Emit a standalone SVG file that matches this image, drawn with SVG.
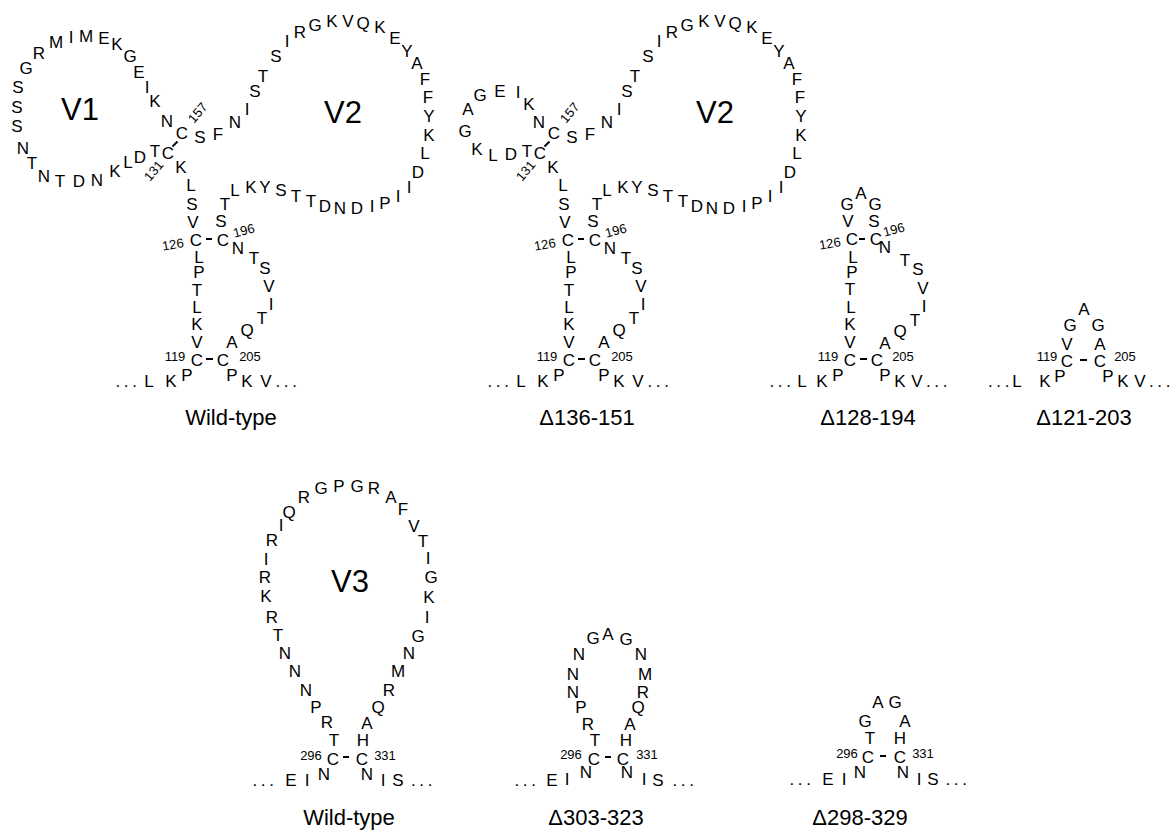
<svg xmlns="http://www.w3.org/2000/svg" width="1173" height="833" viewBox="0 0 1173 833">
<style>
text{font-family:"Liberation Sans",Arial,Helvetica,sans-serif;fill:#000}
.r{font-size:17px;text-anchor:middle}
.n{font-size:13px;text-anchor:middle}
.d{font-size:17px;letter-spacing:3.6px}
.lab{font-size:22px;text-anchor:middle}
.v{font-size:31px;text-anchor:middle}
line{stroke:#000;stroke-width:2}
</style>
<rect width="1173" height="833" fill="#fff"/>
<defs>
<g id="sharedV2">
<text class="r" x="155" y="157">T</text>
<text class="r" x="168" y="159">C</text>
<text class="r" x="182" y="139">C</text>
<text class="n" x="154" y="175" transform="rotate(-50 154 171)">131</text>
<text class="n" x="198" y="117" transform="rotate(-50 198 113)">157</text>
<line x1="172.5" y1="146.5" x2="177.5" y2="141.5"/>
<text class="r" x="181" y="173">K</text>
<text class="r" x="191" y="191">L</text>
<text class="r" x="192" y="210">S</text>
<text class="r" x="193" y="228">V</text>
<text class="r" x="196" y="246">C</text>
<text class="n" x="173" y="249" transform="rotate(-10 173 245)">126</text>
<line x1="206" y1="239" x2="212" y2="239"/>
<text class="r" x="223" y="246">C</text>
<text class="n" x="244" y="235" transform="rotate(-15 244 231)">196</text>
<text class="r" x="199" y="263">L</text>
<text class="r" x="199" y="278">P</text>
<text class="r" x="197" y="296">T</text>
<text class="r" x="197" y="313">L</text>
<text class="r" x="197" y="330">K</text>
<text class="r" x="197" y="348">V</text>
<text class="r" x="197" y="366">C</text>
<text class="n" x="175" y="361">119</text>
<line x1="206" y1="359" x2="213" y2="359"/>
<text class="r" x="223" y="366">C</text>
<text class="n" x="250" y="361">205</text>
<text class="r" x="187" y="381">P</text>
<text class="r" x="171" y="387">K</text>
<text class="r" x="149" y="387">L</text>
<text class="d" x="115.5" y="387">...</text>
<text class="r" x="232" y="381">P</text>
<text class="r" x="247" y="387">K</text>
<text class="r" x="266" y="387">V</text>
<text class="d" x="275.5" y="387">...</text>
<text class="r" x="238" y="254">N</text>
<text class="r" x="254" y="264">T</text>
<text class="r" x="265" y="274">S</text>
<text class="r" x="269" y="292">V</text>
<text class="r" x="271" y="310">I</text>
<text class="r" x="262" y="324">T</text>
<text class="r" x="247" y="336">Q</text>
<text class="r" x="232" y="348">A</text>
<text class="r" x="221" y="227">S</text>
<text class="r" x="225" y="210">T</text>
<text class="r" x="235" y="196">L</text>
<text class="r" x="251" y="193">K</text>
<text class="r" x="265" y="193">Y</text>
<text class="r" x="281" y="196">S</text>
<text class="r" x="296" y="202">T</text>
<text class="r" x="311" y="207">T</text>
<text class="r" x="325" y="212">D</text>
<text class="r" x="340" y="214">N</text>
<text class="r" x="357" y="214">D</text>
<text class="r" x="372" y="212">I</text>
<text class="r" x="385" y="209">P</text>
<text class="r" x="398" y="202">I</text>
<text class="r" x="409" y="193">I</text>
<text class="r" x="418" y="178">D</text>
<text class="r" x="425" y="159">L</text>
<text class="r" x="429" y="141">K</text>
<text class="r" x="429" y="122">Y</text>
<text class="r" x="428" y="103">F</text>
<text class="r" x="425" y="85">F</text>
<text class="r" x="417" y="69">A</text>
<text class="r" x="407" y="57">Y</text>
<text class="r" x="395" y="44">E</text>
<text class="r" x="380" y="33">K</text>
<text class="r" x="363" y="29">Q</text>
<text class="r" x="348" y="27">V</text>
<text class="r" x="332" y="27">K</text>
<text class="r" x="315" y="31">G</text>
<text class="r" x="300" y="38">R</text>
<text class="r" x="287" y="47">I</text>
<text class="r" x="276" y="62">S</text>
<text class="r" x="263" y="82">T</text>
<text class="r" x="255" y="97">S</text>
<text class="r" x="247" y="115">I</text>
<text class="r" x="235" y="128">N</text>
<text class="r" x="218" y="140">F</text>
<text class="r" x="200" y="143">S</text>
<text class="v" x="343" y="123">V2</text>
</g>
</defs>

<g id="wt-V1V2">
<use href="#sharedV2"/>
<text class="r" x="140" y="163">D</text>
<text class="r" x="128" y="168">L</text>
<text class="r" x="115" y="177">K</text>
<text class="r" x="97" y="186">N</text>
<text class="r" x="79" y="187">D</text>
<text class="r" x="60" y="187">T</text>
<text class="r" x="44" y="182">N</text>
<text class="r" x="32" y="169">T</text>
<text class="r" x="23" y="154">N</text>
<text class="r" x="17" y="132">S</text>
<text class="r" x="17" y="113">S</text>
<text class="r" x="18" y="93">S</text>
<text class="r" x="26" y="74">G</text>
<text class="r" x="39" y="59">R</text>
<text class="r" x="56" y="48">M</text>
<text class="r" x="71" y="43">I</text>
<text class="r" x="86" y="42">M</text>
<text class="r" x="104" y="44">E</text>
<text class="r" x="117" y="50">K</text>
<text class="r" x="130" y="62">G</text>
<text class="r" x="139" y="78">E</text>
<text class="r" x="147" y="93">I</text>
<text class="r" x="155" y="107">K</text>
<text class="r" x="167" y="127">N</text>
<text class="v" x="80" y="120">V1</text>
<text class="lab" x="231" y="425">Wild-type</text>
</g>

<g id="d136-151">
<use href="#sharedV2" transform="translate(372,0)"/>
<text class="r" x="511" y="160">D</text>
<text class="r" x="493" y="161">L</text>
<text class="r" x="477" y="155">K</text>
<text class="r" x="465" y="137">G</text>
<text class="r" x="468" y="115">A</text>
<text class="r" x="480" y="101">G</text>
<text class="r" x="500" y="97">E</text>
<text class="r" x="518" y="98">I</text>
<text class="r" x="529" y="110">K</text>
<text class="r" x="539" y="128">N</text>
<text class="lab" x="587" y="425">Δ136-151</text>
</g>

<g id="d128-194">
<text class="r" x="861" y="199">A</text>
<text class="r" x="847" y="210">G</text>
<text class="r" x="875" y="210">G</text>
<text class="r" x="848" y="227">V</text>
<text class="r" x="874" y="227">S</text>
<text class="r" x="852" y="245">C</text>
<text class="n" x="830" y="248" transform="rotate(-10 830 244)">126</text>
<line x1="859" y1="239" x2="865" y2="239"/>
<text class="r" x="876" y="245">C</text>
<text class="n" x="894" y="234" transform="rotate(-15 894 230)">196</text>
<text class="r" x="885" y="253">N</text>
<text class="r" x="905" y="266">T</text>
<text class="r" x="918" y="275">S</text>
<text class="r" x="923" y="294">V</text>
<text class="r" x="924" y="312">I</text>
<text class="r" x="915" y="326">T</text>
<text class="r" x="900" y="337">Q</text>
<text class="r" x="885" y="349">A</text>
<text class="r" x="853" y="263">L</text>
<text class="r" x="852" y="278">P</text>
<text class="r" x="850" y="295">T</text>
<text class="r" x="851" y="313">L</text>
<text class="r" x="850" y="330">K</text>
<text class="r" x="850" y="348">V</text>
<text class="r" x="850" y="366">C</text>
<text class="n" x="828" y="361">119</text>
<line x1="860" y1="359" x2="867" y2="359"/>
<text class="r" x="877" y="366">C</text>
<text class="n" x="903" y="361">205</text>
<text class="r" x="838" y="381">P</text>
<text class="r" x="822" y="387">K</text>
<text class="r" x="802" y="387">L</text>
<text class="d" x="769.5" y="387">...</text>
<text class="r" x="885" y="381">P</text>
<text class="r" x="900" y="387">K</text>
<text class="r" x="917" y="387">V</text>
<text class="d" x="926" y="387">...</text>
<text class="lab" x="868" y="425">Δ128-194</text>
</g>

<g id="d121-203">
<text class="r" x="1084" y="315">A</text>
<text class="r" x="1070" y="331">G</text>
<text class="r" x="1098" y="331">G</text>
<text class="r" x="1067" y="350">V</text>
<text class="r" x="1100" y="350">A</text>
<text class="r" x="1067" y="367">C</text>
<text class="n" x="1047" y="361">119</text>
<line x1="1080" y1="360" x2="1087" y2="360"/>
<text class="r" x="1100" y="367">C</text>
<text class="n" x="1125" y="361">205</text>
<text class="r" x="1060" y="382">P</text>
<text class="r" x="1045" y="387">K</text>
<text class="r" x="1017" y="387">L</text>
<text class="d" x="988" y="387">...</text>
<text class="r" x="1108" y="382">P</text>
<text class="r" x="1123" y="387">K</text>
<text class="r" x="1140" y="387">V</text>
<text class="d" x="1149" y="387">...</text>
<text class="lab" x="1084" y="425">Δ121-203</text>
</g>

<g id="wt-V3">
<text class="r" x="304" y="503">R</text>
<text class="r" x="289" y="518">Q</text>
<text class="r" x="281" y="531">I</text>
<text class="r" x="272" y="546">R</text>
<text class="r" x="266" y="565">I</text>
<text class="r" x="265" y="583">R</text>
<text class="r" x="266" y="602">K</text>
<text class="r" x="272" y="623">R</text>
<text class="r" x="278" y="641">T</text>
<text class="r" x="285" y="659">N</text>
<text class="r" x="295" y="677">N</text>
<text class="r" x="306" y="696">N</text>
<text class="r" x="316" y="713">P</text>
<text class="r" x="327" y="728">R</text>
<text class="r" x="334" y="746">T</text>
<text class="r" x="333" y="765">C</text>
<text class="n" x="311" y="760">296</text>
<line x1="343" y1="757" x2="349" y2="757"/>
<text class="r" x="362" y="765">C</text>
<text class="n" x="385" y="760">331</text>
<text class="r" x="321" y="494">G</text>
<text class="r" x="339" y="492">P</text>
<text class="r" x="357" y="492">G</text>
<text class="r" x="374" y="494">R</text>
<text class="r" x="391" y="503">A</text>
<text class="r" x="403" y="515">F</text>
<text class="r" x="414" y="532">V</text>
<text class="r" x="423" y="547">T</text>
<text class="r" x="428" y="564">I</text>
<text class="r" x="431" y="583">G</text>
<text class="r" x="429" y="603">K</text>
<text class="r" x="427" y="623">I</text>
<text class="r" x="418" y="642">G</text>
<text class="r" x="409" y="659">N</text>
<text class="r" x="398" y="677">M</text>
<text class="r" x="389" y="696">R</text>
<text class="r" x="378" y="713">Q</text>
<text class="r" x="367" y="729">A</text>
<text class="r" x="363" y="746">H</text>
<text class="r" x="324" y="780">N</text>
<text class="r" x="307" y="786">I</text>
<text class="r" x="291" y="786">E</text>
<text class="d" x="252.5" y="786">...</text>
<text class="r" x="367" y="780">N</text>
<text class="r" x="383" y="786">I</text>
<text class="r" x="398" y="786">S</text>
<text class="d" x="411" y="786">...</text>
<text class="v" x="350" y="592">V3</text>
<text class="lab" x="349" y="825">Wild-type</text>
</g>

<g id="d303-323">
<text class="r" x="593" y="644">G</text>
<text class="r" x="608" y="640">A</text>
<text class="r" x="626" y="645">G</text>
<text class="r" x="579" y="660">N</text>
<text class="r" x="573" y="680">N</text>
<text class="r" x="573" y="698">N</text>
<text class="r" x="581" y="713">P</text>
<text class="r" x="588" y="730">R</text>
<text class="r" x="595" y="746">T</text>
<text class="r" x="594" y="765">C</text>
<text class="n" x="571" y="759">296</text>
<line x1="605" y1="757" x2="611" y2="757"/>
<text class="r" x="623" y="765">C</text>
<text class="n" x="647" y="759">331</text>
<text class="r" x="626" y="746">H</text>
<text class="r" x="630" y="730">A</text>
<text class="r" x="638" y="713">Q</text>
<text class="r" x="643" y="698">R</text>
<text class="r" x="645" y="680">M</text>
<text class="r" x="641" y="660">N</text>
<text class="r" x="586" y="778">N</text>
<text class="r" x="567" y="785">I</text>
<text class="r" x="552" y="786">E</text>
<text class="d" x="514.5" y="786">...</text>
<text class="r" x="627" y="778">N</text>
<text class="r" x="644" y="785">I</text>
<text class="r" x="658" y="786">S</text>
<text class="d" x="672.5" y="786">...</text>
<text class="lab" x="596" y="825">Δ303-323</text>
</g>

<g id="d298-329">
<text class="r" x="878" y="708">A</text>
<text class="r" x="895" y="708">G</text>
<text class="r" x="865" y="727">G</text>
<text class="r" x="905" y="727">A</text>
<text class="r" x="870" y="744">T</text>
<text class="r" x="900" y="744">H</text>
<text class="r" x="868" y="763">C</text>
<text class="n" x="847" y="758">296</text>
<line x1="880" y1="756" x2="886" y2="756"/>
<text class="r" x="900" y="763">C</text>
<text class="n" x="923" y="758">331</text>
<text class="r" x="860" y="778">N</text>
<text class="r" x="844" y="785">I</text>
<text class="r" x="828" y="785">E</text>
<text class="d" x="789.5" y="785">...</text>
<text class="r" x="903" y="778">N</text>
<text class="r" x="919" y="785">I</text>
<text class="r" x="933" y="785">S</text>
<text class="d" x="945.5" y="785">...</text>
<text class="lab" x="860" y="825">Δ298-329</text>
</g>
</svg>
